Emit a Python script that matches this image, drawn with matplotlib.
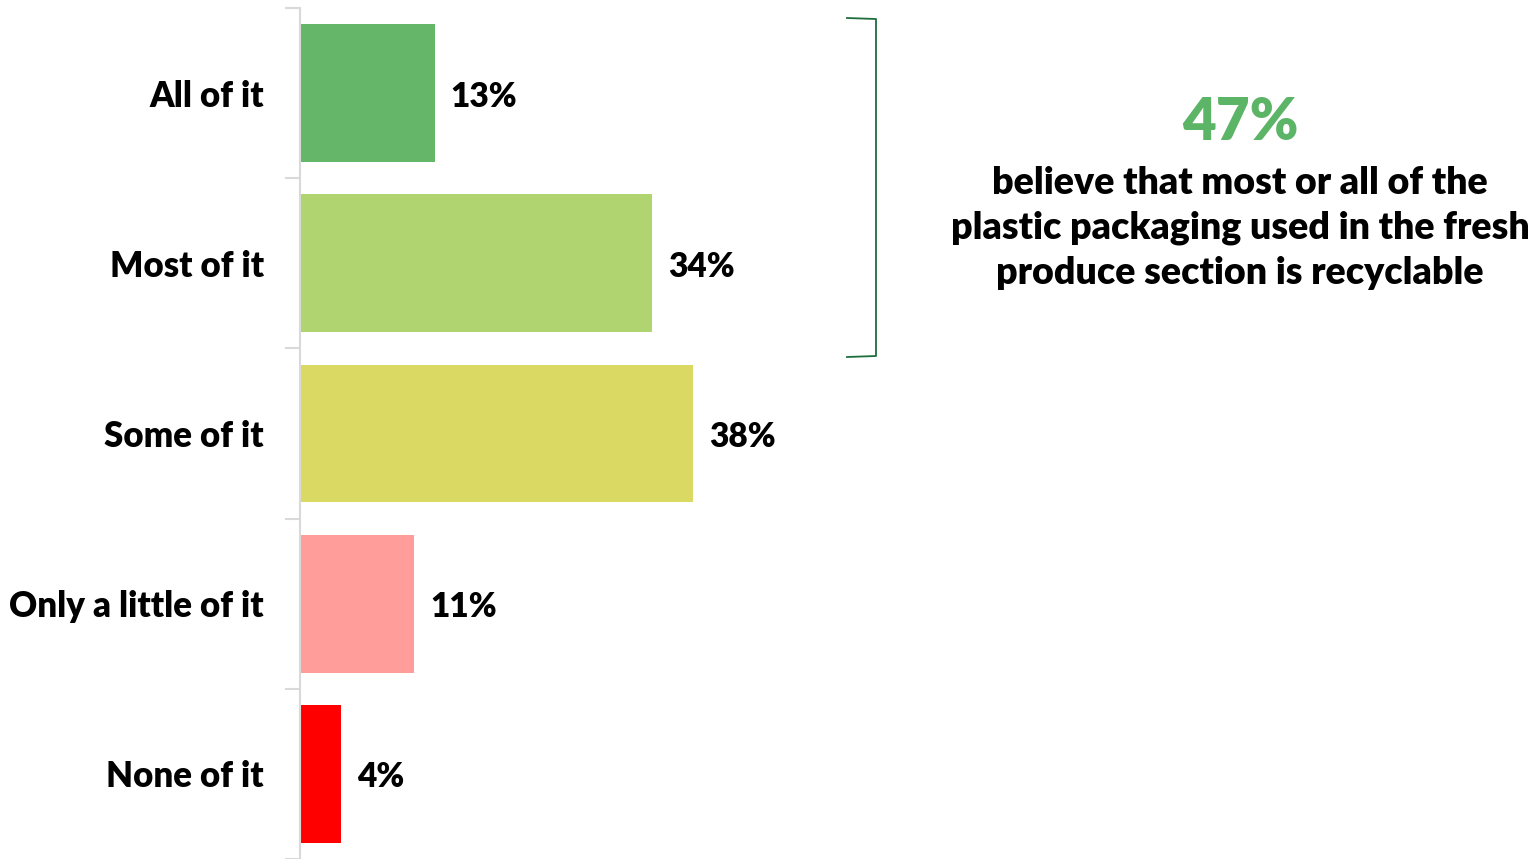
import matplotlib.pyplot as plt
from matplotlib.lines import Line2D

categories = ["All of it", "Most of it", "Some of it", "Only a little of it", "None of it"]
values = [13, 34, 38, 11, 4]
colors = ["#66b66a", "#b0d46f", "#d9d963", "#ff9d9b", "#ff0000"]

headline = "47%"
note = "believe that most or all of the\nplastic packaging used in the fresh\nproduce section is recyclable"

plt.rcParams["font.family"] = ["Lato", "DejaVu Sans"]
plt.rcParams["font.weight"] = "bold"

fig = plt.figure(figsize=(15.39, 8.59), dpi=100)
ax = fig.add_axes([300 / 1539, 0, 1239 / 1539, 851 / 859])

pos = range(len(categories))
ax.barh(pos, values, height=0.81, color=colors)
ax.set_ylim(len(categories) - 0.5, -0.5)
ax.set_xlim(0, 1239 / 10.35)

for i, v in enumerate(values):
    ax.text(v + 1.55, i + 0.02, f"{v}%", va="center", ha="left", fontsize=24, fontweight="heavy")

ax.set_yticks(pos, categories, fontsize=25, fontweight="heavy")
ax.tick_params(axis="y", length=0, pad=26)
ax.set_yticks([i - 0.5 for i in range(len(categories) + 1)], minor=True)
ax.tick_params(axis="y", which="minor", length=11, color="#d9d9d9", width=1.5)
ax.set_xticks([])
for s in ["top", "right", "bottom"]:
    ax.spines[s].set_visible(False)
ax.spines["left"].set_color("#d9d9d9")
ax.spines["left"].set_linewidth(1.5)

# bracket
W, H = 1539, 859
bx = [847 / W, 876 / W, 876 / W, 847 / W]
by = [1 - 18 / H, 1 - 19 / H, 1 - 356 / H, 1 - 357 / H]
fig.add_artist(Line2D(bx, by, color="#1e6e3c", linewidth=1.3, transform=fig.transFigure))

fig.text(1240 / W, 1 - 122 / H, headline, ha="center", va="center", fontsize=42,
         fontweight="heavy", color="#5cb466")
fig.text(1240 / W, 1 - 228 / H, note, ha="center", va="center", fontsize=27,
         fontweight="heavy", linespacing=1.37)

fig.savefig("out.png", dpi=100)
